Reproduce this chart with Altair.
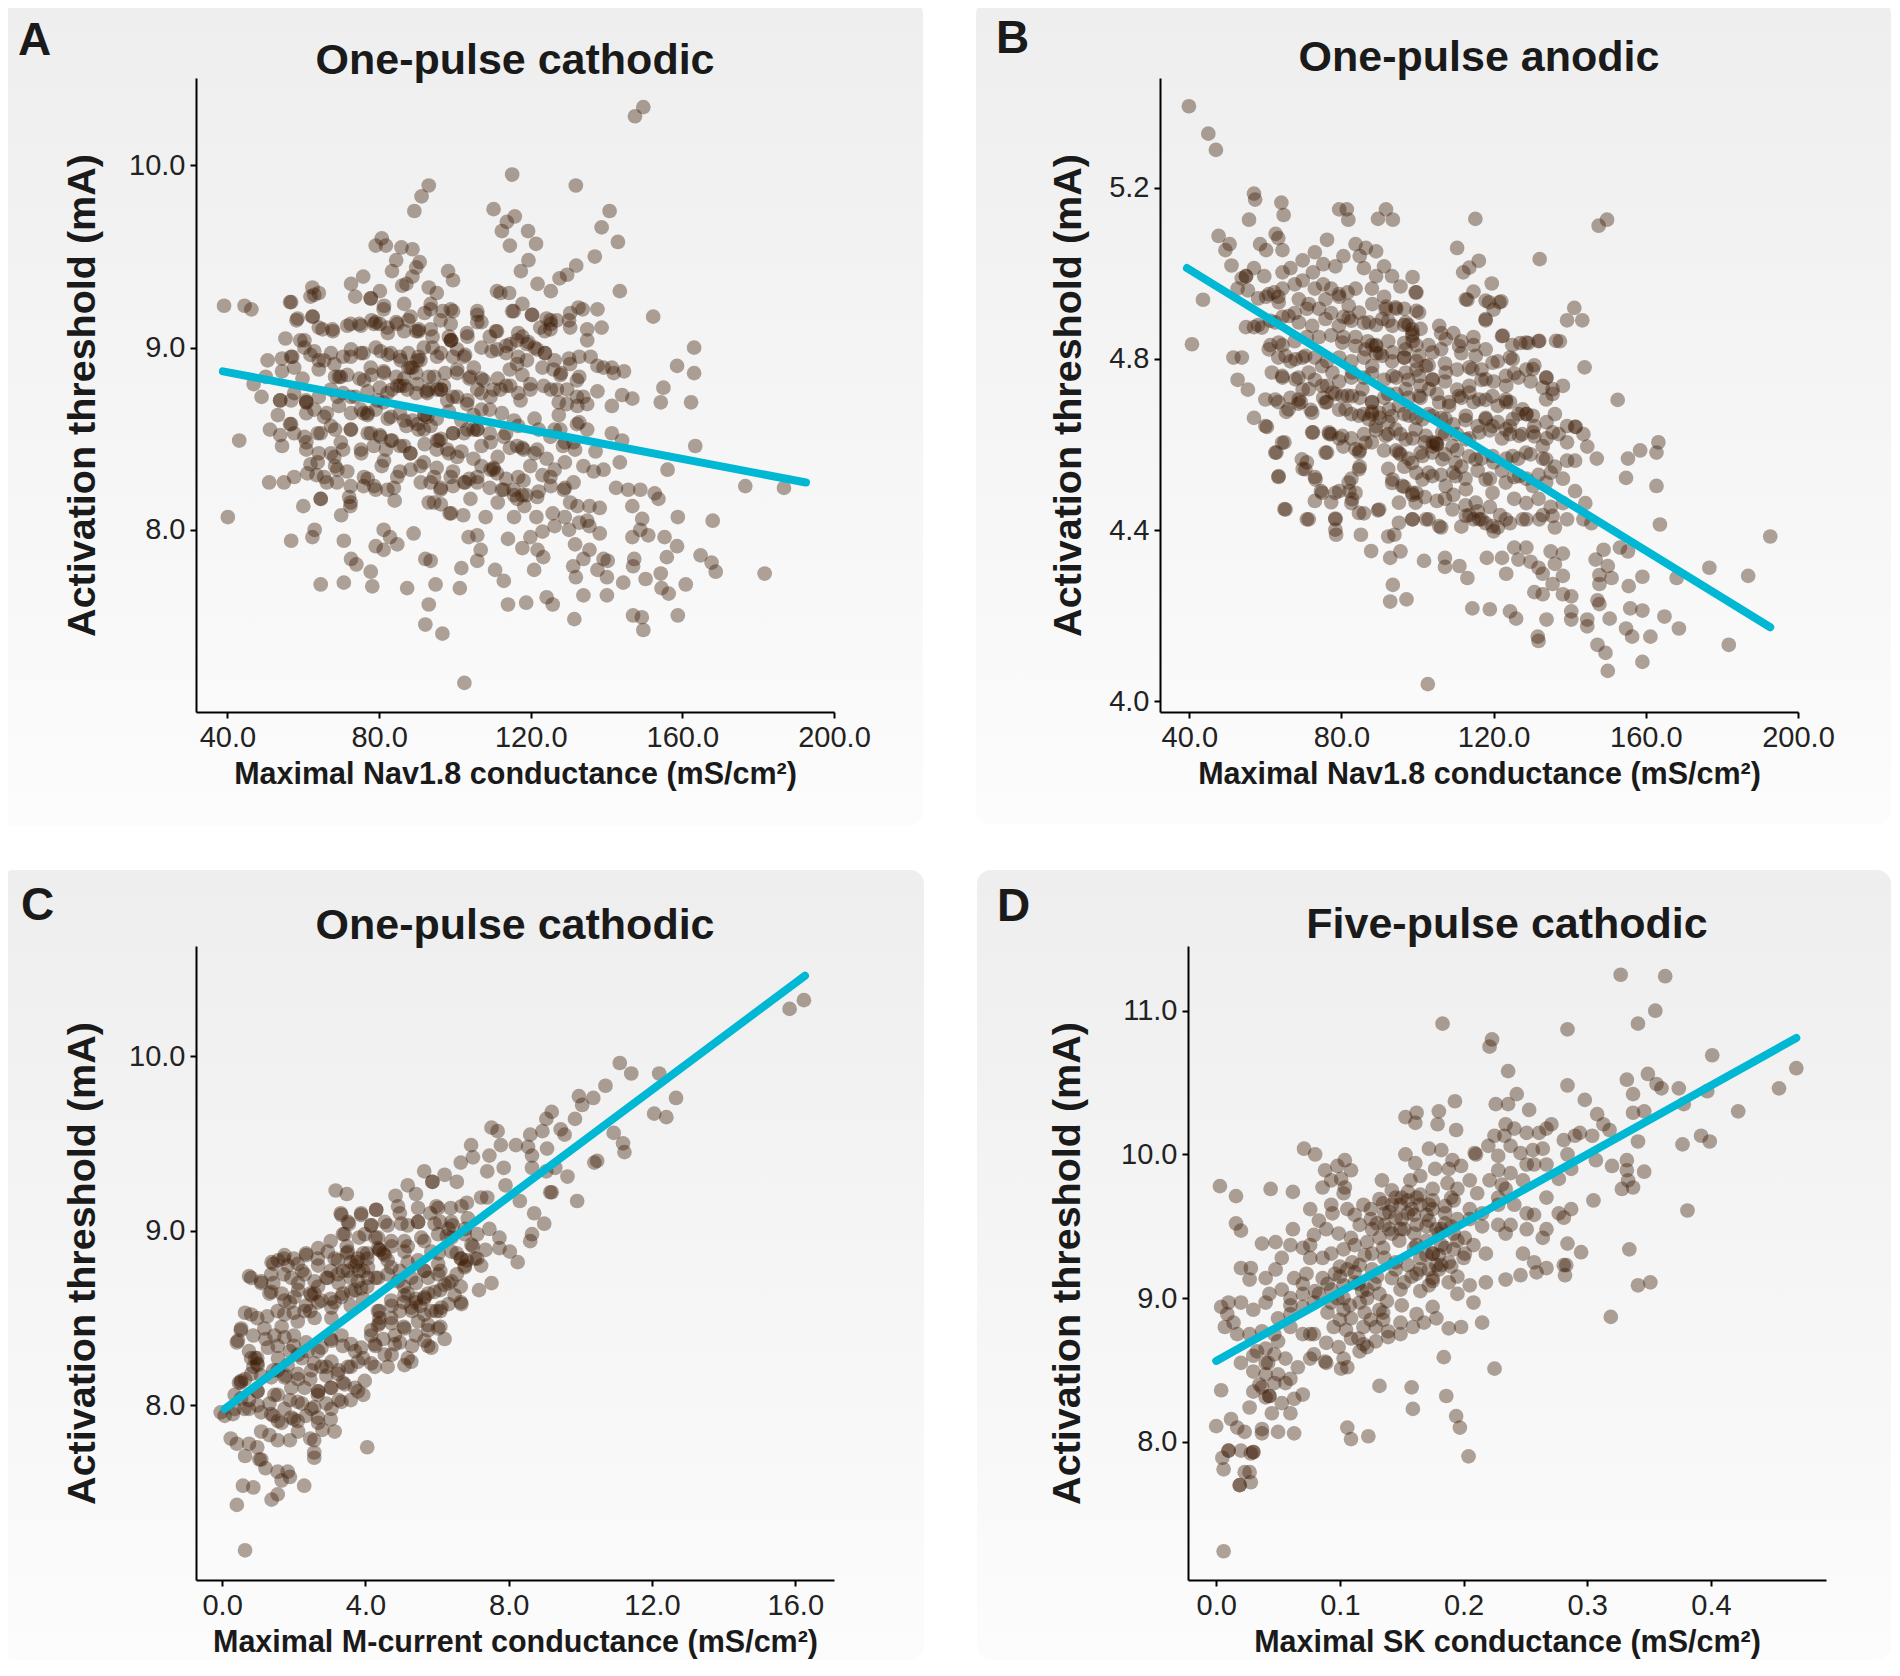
import altair as alt
import pandas as pd

# ---- panel A: Nav1.8 conductance vs one-pulse cathodic threshold ----
a_points = [
    (149.7, 10.32), (147.5, 10.27), (115.1, 9.95), (131.9, 9.89), (93.1, 9.89), (91.2, 9.83), (89.3, 9.75),
    (110.2, 9.76), (115.8, 9.72), (113.7, 9.69), (112.4, 9.64), (114.5, 9.56), (119.3, 9.64), (121.4, 9.57),
    (119.4, 9.48), (117.4, 9.42), (140.8, 9.75), (138.7, 9.66), (143.0, 9.58), (136.9, 9.50), (132.0, 9.45),
    (129.6, 9.40), (127.6, 9.38), (125.3, 9.31), (121.8, 9.35), (143.5, 9.31), (152.3, 9.17),
    (80.7, 9.60), (79.1, 9.56), (81.8, 9.56), (85.9, 9.55), (88.8, 9.54), (84.5, 9.48), (83.4, 9.42),
    (90.7, 9.47), (89.8, 9.44), (98.2, 9.42), (99.5, 9.37), (88.8, 9.39), (86.1, 9.34), (87.2, 9.35),
    (75.8, 9.39), (72.6, 9.35), (73.7, 9.28), (77.8, 9.27), (80.2, 9.31), (93.1, 9.33), (95.2, 9.30),
    (111.1, 9.31), (114.3, 9.30), (62.4, 9.33), (64.1, 9.30), (61.9, 9.28), (56.5, 9.25),
    (39.1, 9.23), (44.5, 9.23), (46.3, 9.21),
    (81.2, 9.21), (78.0, 9.15), (80.2, 9.13), (84.5, 9.14), (87.7, 9.15), (92.0, 9.19), (93.6, 9.21),
    (96.8, 9.20), (99.5, 9.20), (105.9, 9.20), (107.0, 9.14), (110.8, 9.09), (115.1, 9.20), (117.8, 9.24),
    (120.4, 9.18), (124.2, 9.16), (126.9, 9.15), (130.1, 9.15), (133.7, 9.21), (137.6, 9.21), (134.9, 9.10),
    (138.7, 9.11), (58.2, 9.15), (62.4, 9.17), (90.4, 9.09), (94.1, 9.06), (98.4, 9.06), (99.0, 9.04),
    (103.3, 9.06), (109.2, 9.06), (113.5, 9.01), (117.8, 9.06), (119.4, 9.03), (116.7, 9.08), (123.7, 9.09),
    (125.3, 9.13), (134.9, 9.04), (67.8, 9.09), (71.6, 9.12), (74.8, 9.13), (79.1, 9.14), (82.3, 9.08),
    (86.6, 9.09), (55.3, 9.05), (59.2, 9.04), (64.1, 9.11),
    (61.9, 8.96), (64.1, 8.93), (67.3, 8.97), (70.5, 8.95), (72.6, 8.99), (75.9, 8.97), (79.1, 9.00),
    (82.3, 8.96), (85.5, 8.95), (87.7, 8.97), (90.4, 8.95), (94.1, 9.00), (96.3, 8.97), (99.5, 8.95),
    (102.7, 8.96), (107.0, 9.00), (109.7, 8.98), (113.5, 8.97), (116.7, 8.95), (121.0, 9.00), (123.7, 8.97),
    (126.3, 8.93), (130.1, 8.94), (132.8, 8.95), (135.8, 8.95), (137.6, 8.90), (141.4, 8.89), (50.6, 8.93),
    (54.4, 8.94), (57.1, 8.95), (60.3, 9.00),
    (46.9, 8.80), (50.1, 8.84), (54.4, 8.87), (59.8, 8.83), (64.1, 8.88), (68.4, 8.84), (71.6, 8.85),
    (74.8, 8.83), (78.0, 8.85), (81.2, 8.87), (84.5, 8.84), (87.7, 8.89), (89.8, 8.86), (93.1, 8.84),
    (97.4, 8.86), (100.6, 8.88), (103.8, 8.83), (107.0, 8.83), (111.3, 8.83), (114.5, 8.88), (117.8, 8.85),
    (123.1, 8.89), (128.0, 8.86), (132.8, 8.84), (139.2, 8.89), (141.9, 8.86), (144.6, 8.87), (158.6, 8.90),
    (163.1, 9.00), (163.1, 8.86),
    (49.0, 8.73), (53.9, 8.71), (57.6, 8.75), (60.8, 8.70), (64.1, 8.73), (67.3, 8.77), (70.5, 8.75),
    (73.7, 8.73), (77.0, 8.76), (80.2, 8.78), (83.4, 8.77), (86.6, 8.79), (89.8, 8.75), (93.1, 8.77),
    (96.3, 8.77), (99.5, 8.73), (103.3, 8.71), (107.0, 8.75), (110.2, 8.77), (113.5, 8.79), (116.7, 8.75),
    (119.9, 8.80), (125.3, 8.77), (129.6, 8.77), (133.9, 8.73), (137.6, 8.76), (144.1, 8.74), (146.8, 8.72),
    (155.0, 8.78), (154.3, 8.70), (162.3, 8.70),
    (53.3, 8.63), (56.5, 8.58), (60.8, 8.64), (66.2, 8.64), (69.4, 8.68), (72.6, 8.64), (75.9, 8.64),
    (79.1, 8.66), (82.3, 8.61), (85.5, 8.64), (88.8, 8.60), (92.0, 8.63), (95.2, 8.61), (98.4, 8.65),
    (101.7, 8.60), (104.9, 8.63), (109.2, 8.66), (112.4, 8.64), (115.6, 8.60), (121.0, 8.61), (127.4, 8.70),
    (132.3, 8.68), (134.9, 8.69), (141.4, 8.68), (127.4, 8.63), (132.8, 8.59),
    (51.2, 8.55), (53.9, 8.52), (57.6, 8.53), (60.8, 8.48), (64.6, 8.53), (68.4, 8.55), (72.6, 8.55),
    (77.0, 8.53), (80.2, 8.52), (83.4, 8.49), (87.2, 8.57), (90.4, 8.55), (93.6, 8.57), (96.3, 8.50),
    (99.5, 8.53), (103.3, 8.55), (105.9, 8.55), (109.2, 8.53), (113.5, 8.53), (116.7, 8.57), (122.1, 8.55),
    (126.3, 8.55), (129.0, 8.48), (134.9, 8.55), (141.4, 8.53), (144.1, 8.49), (43.1, 8.49), (54.4, 8.46),
    (60.8, 8.44), (64.1, 8.42), (67.3, 8.42), (70.5, 8.44), (75.3, 8.42), (78.6, 8.46), (81.8, 8.44),
    (85.5, 8.46), (88.2, 8.42), (92.0, 8.47), (95.2, 8.44), (98.4, 8.42), (101.7, 8.43), (104.9, 8.39),
    (107.0, 8.46), (111.3, 8.40), (114.5, 8.45), (117.8, 8.45), (121.0, 8.42), (124.2, 8.39), (128.5, 8.46),
    (131.7, 8.44), (137.1, 8.43), (163.4, 8.46),
    (61.9, 8.36), (63.5, 8.30), (68.4, 8.35), (71.6, 8.32), (77.0, 8.28), (80.7, 8.35), (85.5, 8.32),
    (90.9, 8.35), (95.2, 8.34), (99.5, 8.32), (103.8, 8.28), (107.0, 8.35), (110.2, 8.34), (113.5, 8.28),
    (116.7, 8.29), (119.9, 8.35), (123.1, 8.30), (126.3, 8.33), (129.0, 8.37), (133.9, 8.35), (136.6, 8.32),
    (139.2, 8.33), (143.5, 8.37), (156.1, 8.33),
    (51.0, 8.26), (54.9, 8.26), (66.2, 8.26), (68.9, 8.26), (75.9, 8.24), (79.1, 8.22), (83.9, 8.23),
    (93.6, 8.26), (96.3, 8.23), (99.5, 8.24), (102.7, 8.26), (105.9, 8.26), (109.2, 8.23), (112.4, 8.22),
    (115.6, 8.19), (118.8, 8.19), (122.1, 8.21), (125.3, 8.24), (129.0, 8.23), (142.5, 8.23), (145.7, 8.22),
    (148.9, 8.22), (152.7, 8.20), (153.7, 8.17), (176.6, 8.24), (186.8, 8.23),
    (60.0, 8.13), (64.6, 8.17), (72.1, 8.18), (72.4, 8.13), (70.0, 8.08), (84.1, 8.16), (93.1, 8.15),
    (96.3, 8.14), (99.0, 8.09), (102.2, 8.08), (108.1, 8.07), (111.3, 8.15), (115.6, 8.07), (118.3, 8.13),
    (121.5, 8.07), (125.8, 8.09), (129.0, 8.07), (132.3, 8.13), (135.5, 8.13), (138.2, 8.12), (146.8, 8.13),
    (158.8, 8.07), (168.0, 8.05), (149.4, 8.06), (134.9, 8.05), (40.1, 8.07),
    (56.8, 7.94), (62.4, 7.96), (63.0, 8.00), (70.7, 7.94), (81.2, 8.00), (82.9, 7.96), (89.1, 7.98),
    (103.6, 7.96), (105.9, 7.97), (114.0, 7.95), (119.9, 7.96), (123.1, 7.99), (126.3, 8.02), (130.1, 8.00),
    (132.8, 8.04), (135.5, 8.02), (138.2, 7.98), (146.8, 7.96), (151.0, 7.97), (155.3, 7.96), (148.9, 8.00),
    (79.1, 7.91), (81.2, 7.89), (84.8, 7.92), (92.2, 7.84), (93.6, 7.83), (106.8, 7.89), (117.8, 7.90),
    (121.8, 7.89), (123.3, 7.85), (131.7, 7.92), (135.5, 7.89), (139.2, 7.84), (147.3, 7.84), (155.9, 7.85),
    (158.6, 7.91), (164.8, 7.86), (167.7, 7.82),
    (72.6, 7.84), (74.0, 7.81), (77.8, 7.77), (101.7, 7.79), (105.9, 7.83), (110.6, 7.78), (120.9, 7.78),
    (131.2, 7.80), (133.9, 7.84), (137.6, 7.78), (140.3, 7.83), (147.0, 7.80), (154.3, 7.76), (168.8, 7.77),
    (181.7, 7.76), (112.9, 7.72), (131.9, 7.74), (140.1, 7.74), (150.3, 7.73), (144.4, 7.71),
    (64.6, 7.70), (70.7, 7.71), (78.2, 7.69), (87.4, 7.68), (94.9, 7.70), (101.3, 7.68), (154.5, 7.68),
    (156.4, 7.65), (160.9, 7.70), (133.9, 7.64), (140.1, 7.64), (124.2, 7.63), (118.8, 7.60), (114.0, 7.59),
    (125.8, 7.59), (93.1, 7.59),
    (92.2, 7.48), (96.7, 7.43), (131.5, 7.51), (147.0, 7.53), (149.3, 7.52), (149.7, 7.45), (158.8, 7.53),
    (102.5, 7.16),
    (89.8, 9.09), (99.0, 9.04), (90.9, 8.93), (88.8, 8.89), (92.5, 8.76), (95.7, 8.49), (104.9, 8.55),
    (110.2, 8.33), (98.6, 8.09), (117.8, 8.19), (77.0, 8.64), (69.4, 8.84), (60.8, 8.70), (53.9, 8.71),
    (99.5, 8.53), (92.0, 8.63), (96.3, 8.77), (85.5, 8.79), (81.2, 8.70), (107.0, 8.66),
]
# dense core of panel A, read from a close-up
a_core = [
    (56.8, 9.25), (62.9, 9.29), (77.8, 9.27), (81.3, 9.23), (86.6, 9.24), (93.6, 9.24), (98.9, 9.21),
    (105.9, 9.18), (112.0, 9.30), (115.5, 9.20), (120.3, 9.18), (125.2, 9.15), (130.4, 9.19), (132.6, 9.22),
    (58.5, 9.16), (62.5, 9.17), (65.1, 9.10), (67.7, 9.10), (72.5, 9.13), (75.2, 9.12), (78.7, 9.13),
    (82.2, 9.11), (84.8, 9.13), (88.3, 9.17), (90.5, 9.10), (93.6, 9.10), (96.2, 9.15), (98.9, 9.13),
    (103.2, 9.08), (105.9, 9.14), (111.1, 9.09), (116.4, 9.04), (119.0, 9.02), (122.5, 9.11), (125.2, 9.10),
    (130.4, 9.11),
    (56.8, 8.95), (60.3, 9.04), (62.9, 8.98), (65.5, 8.93), (68.2, 8.91), (69.9, 8.84), (72.5, 8.95),
    (75.2, 8.97), (77.8, 8.89), (80.4, 8.98), (83.1, 8.97), (85.7, 8.93), (88.3, 8.89), (90.1, 8.93),
    (91.8, 9.00), (95.3, 8.95), (98.9, 9.04), (100.6, 8.99), (102.4, 8.95), (105.0, 8.89), (107.6, 8.82),
    (111.1, 8.99), (114.6, 9.02), (116.4, 8.91), (119.0, 8.93), (121.7, 8.99), (123.8, 8.97), (126.0, 8.88),
    (127.8, 8.85), (130.4, 8.91), (132.2, 8.82), (57.6, 8.89), (76.0, 8.82), (81.3, 8.86), (86.6, 8.83),
    (94.5, 8.84), (97.1, 8.79), (100.6, 8.86), (104.1, 8.84),
    (56.8, 8.71), (60.7, 8.71), (62.9, 8.66), (65.5, 8.62), (69.0, 8.73), (72.5, 8.73), (75.2, 8.66),
    (76.9, 8.63), (79.6, 8.71), (82.2, 8.75), (84.8, 8.79), (87.4, 8.77), (90.1, 8.80), (92.7, 8.75),
    (95.3, 8.77), (98.0, 8.71), (100.6, 8.73), (103.2, 8.69), (105.9, 8.77), (109.4, 8.73), (112.0, 8.77),
    (114.6, 8.79), (117.3, 8.71), (119.9, 8.77), (123.4, 8.79), (126.9, 8.77), (129.5, 8.69), (132.2, 8.73),
    (83.1, 8.62), (86.6, 8.60), (90.1, 8.58), (92.7, 8.62),
    (56.8, 8.58), (60.3, 8.51), (63.8, 8.53), (67.3, 8.57), (69.9, 8.48), (72.5, 8.55), (75.2, 8.44),
    (77.8, 8.53), (80.4, 8.51), (83.1, 8.49), (86.6, 8.46), (88.3, 8.42), (91.8, 8.55), (95.3, 8.49),
    (98.0, 8.44), (100.6, 8.40), (102.4, 8.53), (105.9, 8.55), (109.4, 8.48), (112.9, 8.51), (116.4, 8.46),
    (118.1, 8.44), (121.7, 8.44), (125.2, 8.51), (127.8, 8.55), (131.3, 8.48), (132.2, 8.58), (68.2, 8.40),
    (63.8, 8.37), (81.3, 8.38), (91.8, 8.37),
    (57.6, 8.29), (61.1, 8.31), (65.5, 8.29), (69.0, 8.33), (72.5, 8.24), (76.0, 8.29), (78.7, 8.24),
    (82.2, 8.22), (84.8, 8.29), (88.3, 8.33), (91.0, 8.26), (94.5, 8.29), (96.2, 8.22), (98.9, 8.29),
    (102.4, 8.26), (105.9, 8.29), (109.4, 8.33), (111.1, 8.31), (112.9, 8.22), (115.5, 8.22), (118.1, 8.27),
    (121.7, 8.18), (125.2, 8.29), (128.7, 8.22), (131.3, 8.26), (130.4, 8.15), (116.4, 8.17), (104.1, 8.17),
    (94.5, 8.15), (72.5, 8.15), (64.6, 8.17),
]
a_fit_x = [38.8, 192.6]
a_fit_y = [8.87, 8.26]

# ---- panel B: Nav1.8 conductance vs one-pulse anodic threshold ----
b_points = [
    (39.9, 5.390), (45.0, 5.326), (47.0, 5.288), (43.6, 4.938), (40.7, 4.834), (57.0, 5.186), (57.3, 5.172),
    (64.2, 5.165), (64.8, 5.136), (55.7, 5.125), (47.7, 5.087), (50.6, 5.068), (49.5, 5.054), (51.1, 5.018),
    (79.4, 5.149), (81.4, 5.149), (81.8, 5.125), (89.6, 5.127), (91.7, 5.149), (93.5, 5.125), (115.2, 5.127),
    (147.6, 5.111), (149.8, 5.125), (132.1, 5.033), (110.4, 5.059), (116.1, 5.029), (113.6, 5.013),
    (112.0, 5.002), (119.5, 4.976), (114.7, 4.957), (113.1, 4.938), (117.9, 4.936), (122.0, 4.934),
    (120.0, 4.915), (117.9, 4.890), (141.2, 4.919), (139.3, 4.890), (143.3, 4.890), (137.4, 4.841),
    (143.9, 4.780), (152.6, 4.704), (131.8, 4.841), (129.1, 4.837), (127.0, 4.837), (124.9, 4.832),
    (122.2, 4.853),
    (62.7, 5.092), (63.4, 5.082), (58.6, 5.068), (60.2, 5.054), (64.5, 5.054), (76.2, 5.078), (73.0, 5.049),
    (75.2, 5.021), (78.4, 5.016), (80.5, 5.040), (83.7, 5.068), (86.4, 5.059), (89.1, 5.051), (84.8, 5.040),
    (85.9, 5.012), (89.1, 4.993), (91.2, 5.016), (93.3, 4.993), (95.5, 4.969), (98.7, 4.991), (99.7, 4.955),
    (99.7, 4.912), (96.5, 4.917), (94.4, 4.917), (91.7, 4.922), (91.2, 4.945), (88.0, 4.964), (83.7, 4.964),
    (81.6, 4.955), (79.4, 4.945), (77.3, 4.964), (75.2, 4.974), (73.0, 4.964), (69.8, 4.983), (67.7, 4.974),
    (64.5, 4.964), (62.3, 4.955), (60.2, 4.945), (58.1, 4.941), (54.9, 4.993), (53.8, 4.988), (52.7, 4.964),
    (55.4, 4.960), (57.0, 5.012), (59.7, 4.993), (64.5, 5.002), (66.6, 5.012), (69.8, 5.030), (72.5, 5.002),
    (54.9, 4.874), (57.0, 4.874), (58.1, 4.879), (61.3, 4.889), (64.5, 4.898), (67.7, 4.907), (70.9, 4.917),
    (74.1, 4.917), (77.3, 4.907), (80.5, 4.898), (82.6, 4.889), (85.9, 4.884), (89.1, 4.879), (92.3, 4.889),
    (96.5, 4.879), (98.7, 4.860), (100.8, 4.870), (106.2, 4.860), (109.4, 4.860), (111.5, 4.841),
    (114.7, 4.851), (61.3, 4.832), (64.5, 4.832), (67.7, 4.841), (70.9, 4.851), (74.1, 4.851), (77.3, 4.855),
    (80.5, 4.851), (83.7, 4.851), (86.9, 4.841), (89.1, 4.832), (92.3, 4.841), (96.5, 4.837), (99.7, 4.832),
    (102.9, 4.832), (106.2, 4.822), (111.5, 4.813), (114.7, 4.832), (117.9, 4.822), (121.1, 4.794),
    (124.3, 4.803), (51.6, 4.803), (53.8, 4.803), (63.4, 4.803), (66.6, 4.794), (69.8, 4.803), (73.0, 4.803),
    (76.2, 4.794), (79.4, 4.803), (82.6, 4.794), (85.9, 4.803), (90.1, 4.813), (93.3, 4.794), (96.5, 4.803),
    (99.7, 4.794), (102.9, 4.785), (107.2, 4.789), (110.4, 4.775), (113.6, 4.780), (116.8, 4.775),
    (52.7, 4.751), (55.4, 4.728), (64.5, 4.756), (68.7, 4.756), (69.8, 4.728), (73.0, 4.751), (76.2, 4.737),
    (79.4, 4.747), (82.6, 4.756), (85.9, 4.756), (88.0, 4.766), (91.2, 4.751), (94.4, 4.756), (97.6, 4.751),
    (100.8, 4.737), (104.0, 4.751), (107.2, 4.747), (110.4, 4.728), (113.6, 4.737), (116.8, 4.751),
    (120.0, 4.747), (123.3, 4.737), (126.5, 4.756), (129.7, 4.747), (132.9, 4.733), (135.5, 4.718),
    (138.2, 4.737), (123.3, 4.699), (128.6, 4.775), (130.7, 4.785), (133.9, 4.756), (125.4, 4.766),
    (63.4, 4.699), (66.6, 4.709), (69.3, 4.699), (75.2, 4.709), (78.4, 4.718), (81.6, 4.714), (84.8, 4.709),
    (88.0, 4.699), (91.2, 4.709), (94.4, 4.718), (97.6, 4.709), (100.8, 4.709), (105.1, 4.718), (108.3, 4.699),
    (111.5, 4.709), (114.7, 4.699), (117.9, 4.704), (121.1, 4.690),
    (57.0, 4.662), (60.4, 4.641), (65.5, 4.676), (68.7, 4.695), (71.9, 4.681), (76.2, 4.699), (79.4, 4.681),
    (82.6, 4.671), (85.9, 4.671), (88.0, 4.676), (90.1, 4.662), (93.3, 4.666), (96.5, 4.671), (99.7, 4.662),
    (102.9, 4.671), (106.2, 4.662), (109.4, 4.647), (112.6, 4.657), (115.8, 4.643), (117.9, 4.662),
    (121.1, 4.652), (124.3, 4.643), (126.5, 4.671), (128.6, 4.671), (130.7, 4.643), (133.9, 4.652),
    (136.1, 4.671), (139.3, 4.643), (141.6, 4.641), (143.6, 4.624), (139.3, 4.605), (137.1, 4.624),
    (133.9, 4.614), (130.7, 4.619), (127.5, 4.624), (124.3, 4.624), (122.2, 4.614), (119.0, 4.633),
    (113.6, 4.614), (110.4, 4.624), (107.2, 4.624), (105.1, 4.600), (101.9, 4.605), (98.7, 4.614),
    (95.5, 4.624), (92.3, 4.624), (89.1, 4.633), (85.9, 4.624), (82.6, 4.614), (79.4, 4.614), (76.8, 4.624),
    (72.5, 4.628),
    (65.0, 4.605), (62.9, 4.581), (76.2, 4.581), (80.5, 4.595), (84.8, 4.586), (88.0, 4.605), (91.2, 4.586),
    (94.4, 4.586), (97.6, 4.567), (100.8, 4.581), (104.0, 4.595), (107.2, 4.577), (110.4, 4.586),
    (113.6, 4.572), (116.8, 4.567), (120.0, 4.558), (123.3, 4.567), (126.5, 4.567), (129.7, 4.577),
    (132.9, 4.567), (136.1, 4.548), (139.3, 4.562), (141.4, 4.562), (144.6, 4.595), (147.1, 4.567),
    (70.9, 4.558), (69.8, 4.543), (73.0, 4.524), (63.4, 4.524), (84.8, 4.548), (82.6, 4.520), (92.3, 4.543),
    (96.5, 4.548), (99.7, 4.534), (102.9, 4.534), (106.2, 4.529), (109.4, 4.534), (112.6, 4.520),
    (115.8, 4.539), (119.0, 4.520), (122.2, 4.539), (125.4, 4.524), (128.6, 4.520), (131.8, 4.529),
    (135.0, 4.534), (138.2, 4.520), (155.3, 4.567), (158.5, 4.586), (163.3, 4.605), (162.8, 4.581),
    (154.8, 4.522), (162.8, 4.503),
    (74.6, 4.491), (79.4, 4.491), (82.1, 4.491), (83.7, 4.487), (77.3, 4.465), (82.6, 4.463), (73.0, 4.468),
    (65.0, 4.449), (78.4, 4.427), (70.9, 4.425), (85.9, 4.439), (89.6, 4.446), (93.3, 4.510), (96.5, 4.501),
    (99.7, 4.487), (101.9, 4.477), (105.1, 4.468), (107.2, 4.473), (109.4, 4.482), (112.6, 4.458),
    (115.8, 4.444), (119.0, 4.454), (121.7, 4.435), (125.4, 4.473), (128.6, 4.463), (131.8, 4.473),
    (135.0, 4.454), (138.2, 4.463), (141.4, 4.491), (144.1, 4.463), (98.7, 4.425), (102.9, 4.425),
    (106.2, 4.406), (111.5, 4.408), (114.7, 4.425), (117.9, 4.416), (121.1, 4.406), (124.3, 4.416),
    (128.6, 4.425), (132.9, 4.435), (136.1, 4.406), (139.3, 4.425), (143.6, 4.425), (145.7, 4.416),
    (163.7, 4.413), (153.2, 4.359), (155.3, 4.350),
    (78.6, 4.389), (85.1, 4.389), (92.3, 4.385), (93.9, 4.389), (87.8, 4.351), (95.5, 4.350), (92.8, 4.335),
    (101.7, 4.328), (107.2, 4.335), (107.2, 4.314), (111.0, 4.316), (113.1, 4.288), (118.2, 4.335),
    (122.2, 4.335), (123.3, 4.298), (125.4, 4.359), (126.5, 4.331), (128.6, 4.359), (129.7, 4.326),
    (131.8, 4.312), (135.0, 4.350), (138.2, 4.345), (136.1, 4.321), (132.9, 4.298), (138.2, 4.293),
    (146.8, 4.331), (148.9, 4.354), (147.8, 4.295), (150.0, 4.316), (151.0, 4.288), (147.8, 4.274),
    (159.1, 4.291), (155.5, 4.269), (168.1, 4.288), (176.7, 4.312), (186.9, 4.293), (192.7, 4.385),
    (93.5, 4.272), (92.8, 4.233), (97.1, 4.238), (114.4, 4.217), (119.0, 4.215), (124.3, 4.210),
    (125.9, 4.193), (130.7, 4.255), (132.9, 4.250), (135.5, 4.274), (138.2, 4.250), (140.4, 4.245),
    (147.3, 4.236), (147.8, 4.227), (140.4, 4.210), (133.9, 4.191), (140.4, 4.191), (144.6, 4.191),
    (144.6, 4.175), (150.5, 4.193), (155.9, 4.217), (159.1, 4.212), (164.9, 4.198), (168.7, 4.170),
    (154.8, 4.170), (156.4, 4.151), (161.2, 4.151),
    (131.6, 4.151), (131.8, 4.141), (147.3, 4.132), (149.4, 4.113), (150.0, 4.071), (159.1, 4.092),
    (181.8, 4.132), (102.7, 4.040),
    (88.0, 4.832), (89.1, 4.813), (97.6, 4.879), (98.7, 4.841), (96.5, 4.803), (99.7, 4.775), (88.0, 4.671),
    (92.3, 4.652), (104.0, 4.605), (105.1, 4.600), (98.7, 4.482), (113.6, 4.435), (116.8, 4.425),
    (120.0, 4.397), (63.4, 4.945), (54.9, 4.993), (124.3, 4.699), (128.6, 4.671), (141.4, 4.641),
    (77.3, 4.624), (95.5, 4.577), (111.5, 4.548), (92.3, 4.718),
]
# dense core of panel B, read from a close-up
b_core = [
    (60.9, 4.951), (63.5, 4.932), (68.8, 4.939), (71.4, 4.928), (75.8, 4.939), (79.3, 4.951), (81.9, 4.924),
    (84.6, 4.908), (88.1, 4.928), (91.6, 4.916), (94.2, 4.920), (99.5, 4.955), (112.7, 4.939), (118.8, 4.932),
    (121.5, 4.932), (59.1, 4.873), (62.6, 4.885), (66.1, 4.900), (68.8, 4.885), (72.3, 4.877), (75.8, 4.893),
    (79.3, 4.877), (81.9, 4.896), (87.2, 4.885), (90.7, 4.893), (93.4, 4.877), (96.9, 4.885), (98.6, 4.869),
    (100.4, 4.908), (105.7, 4.877), (117.9, 4.893), (122.4, 4.854), (128.5, 4.838), (132.0, 4.842),
    (136.4, 4.842),
    (60.9, 4.822), (63.5, 4.838), (65.3, 4.807), (67.9, 4.799), (70.5, 4.807), (74.9, 4.783), (77.6, 4.768),
    (80.2, 4.838), (83.7, 4.830), (86.3, 4.822), (89.0, 4.830), (90.7, 4.807), (88.1, 4.783), (93.4, 4.815),
    (96.9, 4.822), (98.6, 4.854), (100.4, 4.807), (102.2, 4.783), (103.9, 4.815), (107.4, 4.846),
    (110.9, 4.830), (115.3, 4.807), (119.7, 4.791), (125.0, 4.799), (130.3, 4.776), (133.8, 4.756),
    (61.7, 4.768), (64.4, 4.760), (67.9, 4.752), (71.4, 4.768), (82.8, 4.768), (93.4, 4.760), (96.9, 4.768),
    (100.4, 4.760), (103.9, 4.752), (107.4, 4.768), (114.4, 4.776), (117.9, 4.752), (123.2, 4.760),
    (60.0, 4.705), (62.6, 4.705), (66.1, 4.682), (68.8, 4.705), (71.4, 4.729), (74.9, 4.737), (77.6, 4.721),
    (80.2, 4.713), (82.8, 4.713), (85.5, 4.729), (88.1, 4.698), (89.9, 4.674), (92.5, 4.682), (95.1, 4.690),
    (96.9, 4.729), (100.4, 4.713), (103.0, 4.729), (105.7, 4.698), (108.3, 4.690), (110.9, 4.713),
    (113.6, 4.721), (116.2, 4.705), (119.7, 4.713), (123.2, 4.705), (127.6, 4.682), (130.3, 4.667),
    (133.8, 4.705), (135.5, 4.729), (75.8, 4.698), (81.1, 4.682), (72.3, 4.674), (84.6, 4.667), (87.2, 4.659),
    (97.8, 4.667), (101.3, 4.659), (103.9, 4.667), (107.4, 4.659), (112.7, 4.667), (117.9, 4.659),
    (125.0, 4.659),
    (60.0, 4.643), (64.4, 4.604), (72.3, 4.628), (76.7, 4.628), (80.2, 4.620), (83.7, 4.589), (86.3, 4.604),
    (89.0, 4.643), (91.6, 4.620), (94.2, 4.635), (96.9, 4.612), (99.5, 4.635), (102.2, 4.620), (104.8, 4.604),
    (106.5, 4.628), (109.2, 4.596), (112.7, 4.612), (116.2, 4.628), (119.7, 4.643), (123.2, 4.635),
    (126.7, 4.620), (130.3, 4.628), (132.9, 4.596), (135.5, 4.628), (62.6, 4.581), (69.6, 4.565),
    (75.8, 4.581), (84.6, 4.581), (95.1, 4.581), (98.6, 4.557), (101.3, 4.573), (103.9, 4.581), (106.5, 4.565),
    (110.0, 4.557), (115.3, 4.565), (119.7, 4.573), (125.0, 4.573), (128.5, 4.581), (133.8, 4.565),
    (63.5, 4.526), (70.5, 4.542), (73.2, 4.518), (74.9, 4.487), (78.4, 4.487), (81.9, 4.511), (84.6, 4.542),
    (93.4, 4.518), (96.0, 4.503), (98.6, 4.487), (101.3, 4.518), (103.9, 4.526), (107.4, 4.503),
    (110.0, 4.526), (112.7, 4.495), (115.3, 4.464), (117.9, 4.518), (119.7, 4.487), (123.2, 4.511),
    (126.7, 4.526), (130.3, 4.503), (133.8, 4.511), (65.3, 4.448), (71.4, 4.425), (78.4, 4.425),
    (82.8, 4.472), (84.6, 4.440), (89.9, 4.448), (95.1, 4.464), (99.5, 4.464), (102.2, 4.425), (105.7, 4.409),
    (109.2, 4.448), (112.7, 4.433), (116.2, 4.425), (119.7, 4.409), (123.2, 4.425), (127.6, 4.425),
    (132.0, 4.425), (135.5, 4.433), (78.4, 4.401), (95.1, 4.417), (98.6, 4.425),
]
b_fit_x = [39.4, 192.7]
b_fit_y = [5.012, 4.173]

# ---- panel C: M-current conductance vs one-pulse cathodic threshold ----
c_points = [
    (15.84, 10.27), (16.24, 10.32), (11.10, 9.96), (11.42, 9.90), (12.20, 9.90), (12.67, 9.76), (12.06, 9.67),
    (12.40, 9.65), (10.70, 9.83), (10.36, 9.76), (9.96, 9.77), (10.05, 9.72), (9.85, 9.64), (9.20, 9.68),
    (9.05, 9.64), (8.94, 9.57), (9.45, 9.58), (9.56, 9.55), (10.93, 9.56), (11.19, 9.50), (11.23, 9.45),
    (10.47, 9.40), (10.39, 9.39), (9.64, 9.31), (9.91, 9.17), (9.20, 9.22), (9.05, 9.34), (9.30, 9.36),
    (7.52, 9.59), (7.69, 9.57), (7.78, 9.49), (8.20, 9.49), (8.60, 9.55), (8.65, 9.43), (8.54, 9.48),
    (9.07, 9.47), (6.95, 9.49), (6.66, 9.39), (7.00, 9.42), (7.46, 9.43), (7.86, 9.36), (7.40, 9.34),
    (8.65, 9.36), (5.64, 9.34), (5.87, 9.28), (6.21, 9.32), (6.55, 9.28), (5.18, 9.26), (4.84, 9.20),
    (5.41, 9.21), (5.98, 9.14), (6.38, 9.13), (6.83, 9.16), (7.23, 9.19), (7.40, 9.19), (7.91, 9.26),
    (8.31, 9.17), (8.71, 9.10), (8.99, 9.04), (8.65, 8.98), (8.60, 8.94), (8.25, 8.82), (8.03, 8.88),
    (7.74, 8.90), (7.52, 8.70), (7.17, 8.66), (7.23, 8.80), (6.83, 8.83),
    (3.17, 9.23), (3.48, 9.21), (3.31, 9.10), (3.54, 9.04), (3.88, 9.10), (4.30, 9.12), (4.16, 9.03),
    (4.62, 9.03), (4.96, 9.10), (5.18, 9.03), (5.47, 9.05), (5.81, 9.10), (6.09, 9.05), (6.44, 9.03),
    (6.78, 9.01), (7.12, 8.98), (7.46, 9.01), (7.74, 8.96), (3.37, 8.98), (3.03, 8.94), (2.68, 8.90),
    (2.34, 8.87), (2.00, 8.84), (1.72, 8.84), (1.43, 8.81), (1.83, 8.80), (2.23, 8.77), (2.68, 8.80),
    (3.14, 8.84), (3.48, 8.87), (3.76, 8.82), (4.05, 8.87), (4.39, 8.89), (4.62, 8.83), (3.94, 8.77),
    (3.59, 8.73), (3.25, 8.70), (2.91, 8.73), (2.68, 8.68), (2.46, 8.64), (2.12, 8.66), (1.89, 8.59),
    (1.66, 8.64), (1.32, 8.64), (1.55, 8.54), (2.00, 8.53), (2.34, 8.57), (2.68, 8.59), (3.03, 8.61),
    (3.37, 8.64), (3.71, 8.66), (4.05, 8.68), (4.28, 8.73), (4.62, 8.75), (4.96, 8.77), (5.18, 8.82),
    (4.73, 8.91), (4.28, 8.96), (3.82, 8.96), (3.48, 8.91), (3.14, 8.59), (3.59, 8.57), (3.94, 8.61),
    (2.12, 8.70), (1.43, 8.70), (1.09, 8.70), (0.75, 8.74), (1.38, 8.82), (1.72, 8.75),
    (4.39, 8.54), (4.73, 8.57), (5.07, 8.59), (5.41, 8.61), (5.75, 8.64), (6.09, 8.66), (6.32, 8.70),
    (6.55, 8.75), (6.78, 8.80), (7.12, 8.84), (7.35, 8.89), (6.09, 8.77), (5.75, 8.73), (5.41, 8.70),
    (5.07, 8.68), (5.30, 8.54), (5.64, 8.52), (5.98, 8.54), (6.32, 8.58), (6.66, 8.59), (6.09, 8.45),
    (5.75, 8.43), (5.41, 8.40), (5.07, 8.45), (4.73, 8.47), (4.39, 8.50), (4.16, 8.43), (4.50, 8.38),
    (4.96, 8.36), (5.30, 8.34), (5.75, 8.34), (6.21, 8.38), (4.28, 8.34), (4.73, 8.29), (5.18, 8.27),
    (4.62, 8.22), (4.16, 8.24), (6.66, 8.68), (5.64, 8.77), (6.04, 8.87), (6.55, 8.87), (5.64, 8.94),
    (5.18, 8.91), (6.27, 8.97), (7.00, 8.91),
    (0.64, 8.53), (0.98, 8.50), (1.26, 8.51), (1.66, 8.45), (2.00, 8.40), (2.34, 8.36), (2.68, 8.31),
    (3.03, 8.38), (3.37, 8.34), (3.71, 8.31), (3.94, 8.27), (3.59, 8.22), (3.25, 8.20), (2.91, 8.22),
    (2.57, 8.24), (2.23, 8.27), (1.89, 8.31), (1.55, 8.34), (1.21, 8.38), (0.87, 8.40), (0.52, 8.43),
    (0.41, 8.36), (0.75, 8.31), (0.98, 8.27), (0.87, 8.22), (0.64, 8.15), (0.47, 8.13), (1.09, 8.17),
    (1.43, 8.20), (1.77, 8.17), (2.12, 8.15), (2.46, 8.15), (2.68, 8.08), (3.03, 8.10), (3.37, 8.13),
    (3.71, 8.10), (3.94, 8.06), (3.59, 8.03), (3.25, 8.03), (2.91, 8.01), (2.57, 7.99), (2.23, 8.01),
    (1.89, 8.03), (1.55, 8.06), (1.32, 8.01), (1.09, 7.96), (1.43, 7.94), (1.66, 7.90), (2.00, 7.92),
    (2.34, 7.94), (2.68, 7.90), (3.03, 7.92), (3.14, 7.85), (2.80, 7.86), (2.46, 7.81), (2.12, 7.85),
    (1.89, 7.80), (1.55, 7.80), (1.32, 7.83), (1.09, 7.85), (0.98, 7.76), (0.75, 7.78), (0.41, 7.78),
    (0.24, 7.81), (0.64, 7.71), (1.04, 7.69), (1.21, 7.64), (1.55, 7.62), (1.83, 7.62), (1.66, 7.57),
    (1.89, 7.59), (2.57, 7.80), (2.57, 7.73), (2.57, 7.70), (2.29, 7.54), (0.87, 7.53), (0.58, 7.54),
    (1.55, 7.49), (1.38, 7.46), (0.41, 7.43), (0.64, 7.17), (4.05, 7.76), (0.07, 7.94), (0.30, 7.95),
    (0.75, 7.98), (0.52, 8.13), (0.98, 8.08), (0.75, 8.03), (0.35, 8.06), (-0.04, 7.96),
    (0.92, 8.27), (0.98, 8.24), (2.57, 8.64), (3.71, 8.80), (3.82, 8.77), (4.05, 8.84), (4.39, 8.89),
    (4.50, 8.87), (5.41, 8.59), (5.64, 8.61), (4.39, 8.47), (5.87, 9.28), (9.16, 9.22), (2.68, 8.08),
    (1.09, 7.69), (3.59, 8.82), (3.37, 8.77), (3.94, 8.87), (5.18, 8.64), (5.53, 8.57), (4.96, 8.54),
    (3.03, 8.77), (2.46, 8.54), (2.00, 8.34), (1.55, 8.20), (2.91, 8.17), (6.09, 8.54), (6.66, 8.84),
    (6.32, 9.01),
]
# dense core of panel C, read from a close-up
c_core = [
    (3.33, 9.09), (3.88, 9.09), (4.30, 9.12), (4.91, 9.14), (5.47, 9.13), (6.03, 9.13), (6.68, 9.14),
    (3.51, 9.05), (4.16, 9.03), (4.54, 9.05), (5.00, 9.04), (5.47, 9.05), (5.93, 9.04), (6.40, 9.05),
    (6.86, 9.07), (3.42, 8.98), (3.98, 8.98), (4.35, 8.96), (4.72, 8.94), (5.09, 8.94), (5.56, 8.96),
    (6.03, 8.98), (6.40, 8.96), (6.77, 8.98),
    (1.56, 8.83), (1.74, 8.86), (2.11, 8.81), (2.35, 8.86), (2.67, 8.84), (2.95, 8.88), (3.23, 8.83),
    (3.51, 8.88), (3.79, 8.84), (4.07, 8.79), (4.35, 8.90), (4.54, 8.86), (4.72, 8.79), (5.09, 8.88),
    (5.47, 8.83), (5.84, 8.88), (6.03, 8.81), (6.40, 8.88), (6.68, 8.84), (6.96, 8.92), (0.81, 8.73),
    (1.09, 8.71), (1.37, 8.75), (1.93, 8.73), (2.30, 8.75), (2.58, 8.71), (2.95, 8.73), (3.23, 8.75),
    (3.51, 8.77), (3.79, 8.71), (4.07, 8.73), (4.35, 8.73), (4.91, 8.71), (5.28, 8.73), (5.65, 8.77),
    (6.03, 8.75), (6.40, 8.71), (6.77, 8.79), (7.05, 8.84),
    (1.37, 8.65), (1.74, 8.60), (2.02, 8.62), (2.30, 8.54), (2.49, 8.63), (2.77, 8.60), (3.05, 8.56),
    (3.33, 8.62), (3.60, 8.65), (3.88, 8.67), (1.74, 8.52), (2.11, 8.48), (2.58, 8.50), (3.05, 8.50),
    (4.35, 8.54), (4.72, 8.60), (5.09, 8.63), (5.28, 8.56), (5.65, 8.62), (5.93, 8.65), (6.21, 8.69),
    (6.49, 8.63), (6.68, 8.58), (5.84, 8.54), (6.12, 8.56), (5.47, 8.48), (5.09, 8.44), (4.72, 8.50),
    (4.35, 8.46), (4.16, 8.40), (4.82, 8.40), (5.75, 8.46), (6.03, 8.44), (0.81, 8.52), (0.53, 8.44),
    (1.18, 8.44), (1.46, 8.40), (1.74, 8.39),
    (0.44, 8.37), (0.81, 8.27), (0.99, 8.23), (1.28, 8.33), (1.56, 8.27), (1.83, 8.23), (2.11, 8.29),
    (2.39, 8.31), (2.77, 8.33), (3.05, 8.37), (3.33, 8.40), (3.60, 8.35), (3.88, 8.33), (4.26, 8.35),
    (4.54, 8.29), (4.82, 8.35), (5.09, 8.23), (5.28, 8.25), (5.65, 8.37), (5.84, 8.33), (2.11, 8.18),
    (2.49, 8.20), (2.77, 8.22), (3.05, 8.25), (3.23, 8.18), (3.51, 8.22), (3.79, 8.25), (3.98, 8.14),
    (4.26, 8.22), (1.74, 8.16), (1.37, 8.16), (0.81, 8.18), (0.53, 8.14), (0.99, 8.08), (1.46, 8.06),
    (1.93, 8.10), (2.30, 8.10), (2.67, 8.06), (3.05, 8.10), (3.42, 8.12), (3.79, 8.08),
    (0.62, 7.98), (0.99, 8.00), (1.37, 7.95), (1.74, 7.98), (2.11, 8.02), (2.49, 7.98), (2.67, 7.93),
    (3.05, 7.98), (3.33, 8.02), (2.11, 7.91), (1.56, 7.91), (1.93, 7.93), (0.53, 8.04), (0.35, 7.98),
]
c_fit_x = [0.07, 16.27]
c_fit_y = [7.98, 10.46]

# ---- panel D: SK conductance vs five-pulse cathodic threshold ----
d_points = [
    (0.327, 11.25), (0.363, 11.24), (0.355, 11.00), (0.341, 10.91), (0.183, 10.91), (0.284, 10.87),
    (0.223, 10.80), (0.221, 10.75), (0.401, 10.69), (0.236, 10.58), (0.469, 10.60), (0.332, 10.52),
    (0.349, 10.56), (0.356, 10.49), (0.360, 10.46), (0.284, 10.48), (0.337, 10.42), (0.374, 10.46),
    (0.397, 10.44), (0.455, 10.46), (0.243, 10.42), (0.298, 10.38), (0.193, 10.37), (0.226, 10.35),
    (0.236, 10.35), (0.253, 10.31), (0.422, 10.30), (0.308, 10.28), (0.313, 10.21), (0.337, 10.29),
    (0.346, 10.30), (0.378, 10.35), (0.153, 10.26), (0.162, 10.29), (0.161, 10.22), (0.180, 10.30),
    (0.179, 10.21), (0.194, 10.17), (0.341, 10.09), (0.377, 10.07), (0.392, 10.13), (0.399, 10.09),
    (0.071, 10.04), (0.080, 10.00), (0.153, 10.00), (0.161, 9.94), (0.172, 10.04), (0.182, 10.03),
    (0.191, 9.96), (0.210, 10.00), (0.177, 9.90), (0.188, 9.90), (0.198, 9.92),
    (0.234, 10.21), (0.241, 10.18), (0.251, 10.15), (0.261, 10.15), (0.267, 10.18), (0.271, 10.21),
    (0.281, 10.10), (0.290, 10.13), (0.294, 10.15), (0.304, 10.13), (0.264, 10.04), (0.256, 10.03),
    (0.246, 10.01), (0.238, 10.06), (0.228, 9.99), (0.220, 10.06), (0.225, 10.13), (0.233, 10.13),
    (0.318, 10.17), (0.307, 9.96), (0.320, 9.92), (0.332, 9.96), (0.332, 9.89), (0.346, 9.88),
    (0.328, 9.76), (0.337, 9.77), (0.333, 9.82), (0.305, 9.68), (0.267, 9.70), (0.277, 9.83),
    (0.287, 9.90), (0.251, 9.93), (0.238, 9.87), (0.228, 9.89), (0.284, 10.00), (0.267, 9.93),
    (0.257, 9.93), (0.248, 9.82), (0.234, 9.76), (0.228, 9.70), (0.241, 9.65), (0.251, 9.59),
    (0.257, 9.58), (0.267, 9.48), (0.264, 9.42), (0.277, 9.59), (0.287, 9.62), (0.281, 9.56),
    (0.251, 9.48), (0.234, 9.45), (0.228, 9.51), (0.238, 9.51), (0.248, 9.31), (0.257, 9.25),
    (0.267, 9.21), (0.281, 9.23), (0.282, 9.16), (0.295, 9.32), (0.284, 9.38), (0.381, 9.61),
    (0.334, 9.34), (0.341, 9.09), (0.351, 9.11), (0.319, 8.87), (0.225, 8.51), (0.184, 8.59),
    (0.234, 9.13), (0.246, 9.16), (0.259, 9.18),
    (0.003, 9.78), (0.016, 9.71), (0.044, 9.76), (0.062, 9.74), (0.016, 9.52), (0.020, 9.47),
    (0.062, 9.48), (0.037, 9.38), (0.048, 9.39), (0.053, 9.28), (0.060, 9.37), (0.020, 9.21),
    (0.028, 9.21), (0.027, 9.13), (0.040, 9.14), (0.048, 9.20), (0.070, 9.35), (0.076, 9.37),
    (0.088, 9.89), (0.098, 9.92), (0.104, 9.96), (0.109, 9.89), (0.101, 9.83), (0.093, 9.82),
    (0.104, 9.77), (0.086, 9.77), (0.076, 9.62), (0.083, 9.54), (0.093, 9.65), (0.103, 9.73),
    (0.094, 9.59), (0.106, 9.62), (0.112, 9.58), (0.119, 9.65), (0.132, 9.69), (0.134, 9.82),
    (0.142, 9.75), (0.149, 9.65), (0.157, 9.82), (0.165, 9.85), (0.175, 9.76), (0.187, 9.80),
    (0.195, 9.76), (0.205, 9.82), (0.211, 9.73), (0.221, 9.82), (0.231, 9.79), (0.228, 9.65),
    (0.215, 9.59), (0.205, 9.62), (0.192, 9.68), (0.185, 9.59), (0.175, 9.62), (0.165, 9.65),
    (0.155, 9.59), (0.145, 9.56), (0.136, 9.51), (0.126, 9.48), (0.116, 9.51), (0.109, 9.42),
    (0.099, 9.45), (0.089, 9.48), (0.079, 9.44), (0.076, 9.28), (0.086, 9.28), (0.093, 9.31),
    (0.103, 9.34), (0.112, 9.37), (0.122, 9.39), (0.132, 9.42), (0.142, 9.45), (0.152, 9.48),
    (0.162, 9.51), (0.172, 9.54), (0.182, 9.48), (0.192, 9.45), (0.201, 9.42), (0.208, 9.37),
    (0.218, 9.31), (0.201, 9.31), (0.192, 9.34), (0.182, 9.37), (0.175, 9.31), (0.165, 9.28),
    (0.155, 9.23), (0.145, 9.25), (0.136, 9.28), (0.126, 9.31), (0.116, 9.23), (0.106, 9.20),
    (0.096, 9.17), (0.086, 9.14), (0.073, 9.17), (0.063, 9.14), (0.053, 9.06), (0.043, 9.03),
    (0.060, 9.00), (0.070, 9.03), (0.083, 9.03), (0.093, 9.06), (0.103, 9.09), (0.112, 9.11),
    (0.122, 9.06), (0.132, 9.03), (0.142, 9.14), (0.152, 9.11), (0.162, 9.17), (0.172, 9.20),
    (0.182, 9.23), (0.175, 9.14), (0.188, 9.11), (0.195, 9.03), (0.205, 9.09), (0.218, 9.11),
    (0.208, 8.97), (0.215, 8.83), (0.198, 8.80), (0.188, 8.79), (0.178, 8.86), (0.168, 8.83),
    (0.159, 8.80), (0.149, 8.75), (0.139, 8.77), (0.129, 8.80), (0.119, 8.80), (0.109, 8.86),
    (0.103, 8.92), (0.093, 8.97), (0.079, 8.97), (0.070, 8.94), (0.060, 8.89), (0.050, 8.86),
    (0.040, 8.97), (0.030, 8.92), (0.020, 8.97), (0.010, 8.97), (0.004, 8.94), (0.009, 8.89),
    (0.014, 8.83), (0.007, 8.80), (0.017, 8.75), (0.027, 8.75), (0.037, 8.77), (0.047, 8.75),
    (0.060, 8.80), (0.070, 8.75), (0.079, 8.75), (0.089, 8.69), (0.099, 8.66), (0.109, 8.72),
    (0.119, 8.68), (0.129, 8.70), (0.139, 8.73), (0.149, 8.83), (0.162, 8.89), (0.175, 8.94),
    (0.079, 8.61), (0.089, 8.55), (0.103, 8.58), (0.116, 8.63), (0.122, 8.66), (0.106, 8.52),
    (0.101, 8.51), (0.088, 8.56), (0.076, 8.58), (0.066, 8.52), (0.056, 8.58), (0.047, 8.61),
    (0.040, 8.55), (0.033, 8.63), (0.030, 8.49), (0.040, 8.47), (0.050, 8.47), (0.060, 8.44),
    (0.047, 8.41), (0.037, 8.38), (0.030, 8.35), (0.040, 8.31), (0.043, 8.32), (0.053, 8.27),
    (0.063, 8.30), (0.070, 8.33), (0.056, 8.41), (0.027, 8.24), (0.012, 8.16), (0.017, 8.10),
    (0.000, 8.11), (0.004, 8.36), (0.037, 8.09), (0.050, 8.07), (0.063, 8.06), (0.037, 8.06),
    (0.023, 8.07), (0.010, 7.94), (0.020, 7.94), (0.030, 7.93), (0.028, 7.92), (0.005, 7.89),
    (0.006, 7.81), (0.023, 7.79), (0.028, 7.72), (0.019, 7.70), (0.106, 8.10), (0.109, 8.02),
    (0.123, 8.04), (0.132, 8.39), (0.158, 8.38), (0.159, 8.23), (0.186, 8.32), (0.194, 8.18),
    (0.197, 8.10), (0.204, 7.90), (0.006, 7.24),
    (0.209, 10.01), (0.283, 9.23), (0.178, 9.23), (0.175, 9.31), (0.122, 9.00), (0.142, 9.65),
    (0.155, 9.68), (0.172, 9.65), (0.162, 9.70), (0.103, 9.00), (0.076, 8.75), (0.042, 8.55),
    (0.043, 8.32), (0.010, 7.94), (0.030, 7.93), (0.027, 7.79), (0.019, 7.70), (0.136, 9.59),
    (0.149, 9.48), (0.162, 9.37), (0.178, 9.48), (0.126, 9.20), (0.149, 9.06), (0.132, 8.92),
    (0.116, 8.97), (0.188, 9.25), (0.172, 9.09),
]
# extra points in the dense middle of panel D
d_core = [
    (0.125, 9.55), (0.140, 9.60), (0.158, 9.62), (0.170, 9.58), (0.185, 9.52), (0.195, 9.55),
    (0.160, 9.45), (0.148, 9.40), (0.135, 9.35), (0.120, 9.30), (0.110, 9.25), (0.100, 9.15),
    (0.115, 9.10), (0.130, 9.15), (0.145, 9.20), (0.158, 9.15), (0.170, 9.30), (0.185, 9.35),
    (0.195, 9.40), (0.180, 9.20), (0.165, 9.05), (0.150, 8.95), (0.135, 8.85), (0.120, 8.90),
    (0.100, 8.85), (0.090, 8.90), (0.080, 9.05), (0.070, 9.10), (0.060, 8.95), (0.050, 8.70),
    (0.040, 8.65), (0.030, 8.60), (0.020, 8.55), (0.035, 8.40), (0.045, 8.20), (0.060, 8.20),
    (0.150, 9.70), (0.190, 9.70), (0.205, 9.55), (0.215, 9.50),
    (0.125, 9.62), (0.135, 9.66), (0.145, 9.70), (0.155, 9.74), (0.165, 9.72), (0.175, 9.68),
    (0.185, 9.64), (0.130, 9.52), (0.140, 9.48), (0.150, 9.55), (0.160, 9.58), (0.170, 9.50),
    (0.180, 9.45), (0.190, 9.50), (0.090, 9.10), (0.098, 9.00), (0.108, 8.95), (0.118, 9.05),
    (0.128, 9.10), (0.138, 8.98), (0.095, 8.80), (0.105, 8.78), (0.115, 8.72), (0.125, 8.85),
    (0.135, 8.90), (0.112, 9.18), (0.100, 9.22), (0.160, 9.35), (0.170, 9.40), (0.180, 9.30),
    (0.190, 9.22), (0.200, 9.28), (0.165, 9.20), (0.175, 9.12), (0.195, 9.15),
]
d_fit_x = [0.0, 0.469]
d_fit_y = [8.564, 10.81]

FONT = "Liberation Sans"
INK = "#1a1a1a"
DOT = "#3c1c06"
FIT = "#00b8d4"
W, H = 638, 634

panel_bg = alt.LinearGradient(
    gradient="linear",
    stops=[alt.GradientStop(color="#eeeeee", offset=0), alt.GradientStop(color="#fcfcfc", offset=1)],
    x1=0, x2=0, y1=0, y2=1,
)


def panel(points, fit_x, fit_y, x_dom, y_dom, x_ticks, y_ticks, x_title, title, letter,
          box, title_y, letter_pos, ytitle_pad):
    pts = pd.DataFrame(points, columns=["g", "thr"])
    fit = pd.DataFrame({"g": fit_x, "thr": fit_y})
    one = pd.DataFrame({"k": [0]})
    left, right, top, bottom = box

    x = alt.X("g:Q", title=x_title,
              scale=alt.Scale(domain=x_dom, nice=False, zero=False),
              axis=alt.Axis(values=x_ticks, format=".1f", labelFlush=False, zindex=2))
    y = alt.Y("thr:Q", title="Activation threshold (mA)",
              scale=alt.Scale(domain=y_dom, nice=False, zero=False),
              axis=alt.Axis(values=y_ticks, format=".1f", titlePadding=ytitle_pad, zindex=2))

    bg = alt.Chart(one).mark_rect(cornerRadius=14, color=panel_bg).encode(
        x=alt.value(-left), x2=alt.value(W + right),
        y=alt.value(-top), y2=alt.value(H + bottom),
    )
    dots = alt.Chart(pts).mark_circle(size=216, opacity=0.4, color=DOT).encode(x=x, y=y)
    line = alt.Chart(fit).mark_line(color=FIT, strokeWidth=8, strokeCap="round").encode(
        x="g:Q", y="thr:Q"
    )
    head = alt.Chart(one).mark_text(
        font=FONT, fontSize=43, fontWeight="bold", color=INK, align="center", baseline="alphabetic"
    ).encode(x=alt.value(W / 2), y=alt.value(title_y), text=alt.value(title))
    tag = alt.Chart(one).mark_text(
        font=FONT, fontSize=46, fontWeight="bold", color=INK, align="left", baseline="alphabetic"
    ).encode(x=alt.value(letter_pos[0]), y=alt.value(letter_pos[1]), text=alt.value(letter))

    return alt.layer(bg, dots, line, head, tag).properties(width=W, height=H)


nav_ticks = [40, 80, 120, 160, 200]

a = panel(a_points + a_core, a_fit_x, a_fit_y, [31.7, 200], [7.0, 10.48], nav_ticks, [8, 9, 10],
          "Maximal Nav1.8 conductance (mS/cm²)", "One-pulse cathodic", "A",
          (196, 89, 78, 114), -4.5, (-178, -23), 26)
b = panel(b_points + b_core, b_fit_x, b_fit_y, [32.3, 200], [3.975, 5.456], nav_ticks,
          [4.0, 4.4, 4.8, 5.2],
          "Maximal Nav1.8 conductance (mS/cm²)", "One-pulse anodic", "B",
          (184, 93, 78, 112), -7, (-164, -25), 20)
c = panel(c_points + c_core, c_fit_x, c_fit_y, [-0.73, 17.08], [7.0, 10.63], [0, 4, 8, 12, 16],
          [8, 9, 10],
          "Maximal M-current conductance (mS/cm²)", "One-pulse cathodic", "C",
          (196, 90, 76, 80), -7, (-175, -26), 26)
d = panel(d_points + d_core, d_fit_x, d_fit_y, [-0.0228, 0.493], [7.04, 11.45],
          [0, 0.1, 0.2, 0.3, 0.4], [8, 9, 10, 11],
          "Maximal SK conductance (mS/cm²)", "Five-pulse cathodic", "D",
          (211, 65, 76, 80), -8.5, (-191, -25), 33)

chart = alt.vconcat(
    alt.hconcat(a, b, spacing=53),
    alt.hconcat(c, d, spacing=53),
    spacing=44,
).properties(
    padding={"left": -8, "top": -8, "right": 0, "bottom": 0}, background="white"
).configure_view(
    stroke=None
).configure_axis(
    grid=False,
    domainColor="black", domainWidth=2,
    tickColor="black", tickWidth=2, tickSize=6,
    labelFont=FONT, labelFontSize=29, labelColor="#222222", labelPadding=5,
    titleFont=FONT, titleFontWeight="bold", titleColor=INK,
).configure_axisX(
    titleFontSize=30.5, titlePadding=7
).configure_axisY(
    titleFontSize=39.5
)

chart.save("out.html", embed_options={"renderer": "svg", "actions": False})
